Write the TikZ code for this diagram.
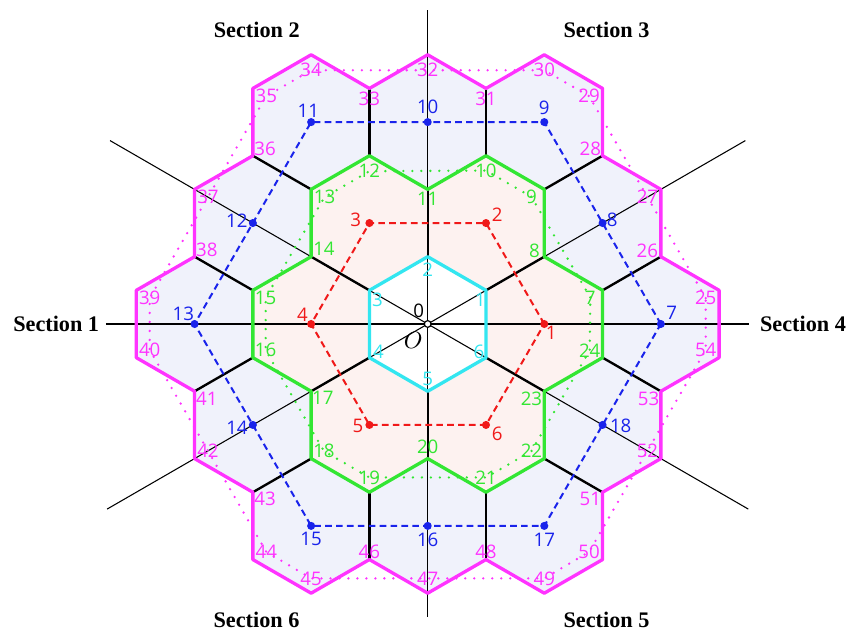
\documentclass[tikz,border=0pt]{standalone}
\usepackage{fontspec}
\setmainfont{Liberation Serif}
\newfontfamily\numfont{Open Sans}
\usetikzlibrary{calc}

\definecolor{hexmag}{RGB}{255,51,255}
\definecolor{hexgreen}{RGB}{51,230,51}
\definecolor{hexcyan}{RGB}{51,230,240}
\definecolor{ptblue}{RGB}{25,35,235}
\definecolor{ptred}{RGB}{240,25,25}
\definecolor{ringone}{RGB}{253,242,240}
\definecolor{ringtwo}{RGB}{240,242,251}

\begin{document}
\begin{tikzpicture}[font=\numfont\fontsize{7.9}{9}\selectfont,
  bound/.style={line width=1.4pt, line join=round},
  spoke/.style={line width=1pt},
  axis/.style={line width=0.45pt},
  link/.style={line width=0.85pt, dash pattern=on 2.8pt off 1.8pt},
  hull/.style={line width=1.1pt, line cap=round, dash pattern=on 0pt off 3.8pt},
  pt/.style={circle, fill, inner sep=0pt, minimum size=1.2mm},
  sect/.style={font=\rmfamily\bfseries\fontsize{9.4}{11}\selectfont}]
  \useasboundingbox (-6.355,-4.577) rectangle (6.230,4.814);

  %% vertices: cyan hexagon, green (ring 1) and magenta (ring 2) outlines
  \foreach \n in {1,...,6}
    \coordinate (c\n) at ({30+60*(\n-1)}:1);
  \foreach \n/\x/\y in {7/2.598/0.5, 8/1.732/1, 9/1.732/2, 10/0.866/2.5,
      11/0/2, 12/-0.866/2.5, 13/-1.732/2, 14/-1.732/1, 15/-2.598/0.5,
      16/-2.598/-0.5, 17/-1.732/-1, 18/-1.732/-2, 19/-0.866/-2.5, 20/0/-2,
      21/0.866/-2.5, 22/1.732/-2, 23/1.732/-1, 24/2.598/-0.5}
    \coordinate (g\n) at (\x,\y);
  \foreach \n/\x/\y in {25/4.33/0.5, 26/3.464/1, 27/3.464/2, 28/2.598/2.5,
      29/2.598/3.5, 30/1.732/4, 31/0.866/3.5, 32/0/4, 33/-0.866/3.5,
      34/-1.732/4, 35/-2.598/3.5, 36/-2.598/2.5, 37/-3.464/2, 38/-3.464/1,
      39/-4.33/0.5, 40/-4.33/-0.5, 41/-3.464/-1, 42/-3.464/-2, 43/-2.598/-2.5,
      44/-2.598/-3.5, 45/-1.732/-4, 46/-0.866/-3.5, 47/0/-4, 48/0.866/-3.5,
      49/1.732/-4, 50/2.598/-3.5, 51/2.598/-2.5, 52/3.464/-2, 53/3.464/-1,
      54/4.33/-0.5}
    \coordinate (m\n) at (\x,\y);

  %% ring fills
  \fill[ringtwo] (m25) \foreach \n in {26,...,54}{-- (m\n)} -- cycle;
  \fill[ringone] (g7) \foreach \n in {8,...,24}{-- (g\n)} -- cycle;
  \fill[white] (c1) \foreach \n in {2,...,6}{-- (c\n)} -- cycle;

  %% section lines
  \draw[axis] (-4.78,0) -- (4.78,0);
  \draw[axis] (0,-4.35) -- (0,4.67);
  \draw[axis] (150:5.45) -- (330:5.5);
  \draw[axis] (30:5.45) -- (210:5.5);

  %% inner hexagon edges
  \foreach \a/\b in {c1/g8, c2/g11, c3/g14, c4/g17, c5/g20, c6/g23,
      g7/m26, g9/m28, g10/m31, g12/m33, g13/m36, g15/m38,
      g16/m41, g18/m43, g19/m46, g21/m48, g22/m51, g24/m53}
    \draw[spoke] (\a) -- (\b);

  %% outlines
  \draw[bound, hexmag] (m25) \foreach \n in {26,...,54}{-- (m\n)} -- cycle;
  \draw[bound, hexgreen] (g7) \foreach \n in {8,...,24}{-- (g\n)} -- cycle;
  \draw[bound, hexcyan] (c1) \foreach \n in {2,...,6}{-- (c\n)} -- cycle;

  %% cell centres
  \foreach \n in {1,...,6}
    \node[pt, ptred] (r\n) at ({60*(\n-1)}:1.732) {};
  \foreach \n/\a/\r in {7/0/3.464, 8/30/3, 9/60/3.464, 10/90/3,
      11/120/3.464, 12/150/3, 13/180/3.464, 14/210/3, 15/240/3.464,
      16/270/3, 17/300/3.464, 18/330/3}
    \node[pt, ptblue] (b\n) at (\a:\r) {};
  \draw[link, ptred] (r1.center) \foreach \n in {2,...,6}{-- (r\n.center)} -- cycle;
  \draw[link, ptblue] (b7.center) \foreach \n in {8,...,18}{-- (b\n.center)} -- cycle;

  %% labels
  \foreach \n/\la/\ld in {1/-52/0.17, 2/38/0.21, 3/165/0.21, 4/132/0.19,
      5/185/0.17, 6/-38/0.21}
    \node[ptred] (lr\n) at ($(r\n)+(\la:\ld)$) {\n};
  \foreach \n/\la/\ld in {7/45/0.23, 8/18/0.15, 9/90/0.21, 10/90/0.22,
      11/104/0.17, 12/171/0.24, 13/137/0.23, 14/191/0.24, 15/270/0.2,
      16/270/0.2, 17/270/0.2, 18/-3/0.27}
    \node[ptblue] (lb\n) at ($(b\n)+(\la:\ld)$) {\n};
  \foreach \n/\la/\ld in {1/239/0.17, 2/270/0.2, 3/309/0.19, 4/34/0.16,
      5/90/0.18, 6/139/0.14}
    \node[hexcyan] (lc\n) at ($(c\n)+(\la:\ld)$) {\n};
  \foreach \n/\la/\ld in {7/210/0.21, 8/150/0.17, 9/210/0.22, 10/270/0.22,
      11/270/0.14, 12/270/0.23, 13/330/0.23, 14/30/0.22, 15/330/0.22,
      16/30/0.22, 17/330/0.2, 18/30/0.22, 19/90/0.22, 20/90/0.17,
      21/90/0.22, 22/150/0.22, 23/210/0.22, 24/150/0.22}
    \node[hexgreen] (lg\n) at ($(g\n)+(\la:\ld)$) {\n};
  \foreach \n/\la/\ld in {25/210/0.23, 26/155/0.22, 27/210/0.23, 28/150/0.21,
      29/210/0.23, 30/270/0.23, 31/270/0.15, 32/270/0.23, 33/270/0.15,
      34/270/0.23, 35/330/0.23, 36/30/0.21, 37/330/0.23, 38/30/0.21,
      39/330/0.23, 40/30/0.23, 41/330/0.21, 42/30/0.23, 43/330/0.21,
      44/30/0.23, 45/90/0.22, 46/90/0.12, 47/90/0.22, 48/90/0.12,
      49/90/0.22, 50/150/0.23, 51/210/0.21, 52/150/0.23, 53/210/0.21,
      54/150/0.23}
    \node[hexmag] (lm\n) at ($(m\n)+(\la:\ld)$) {\n};

  %% dotted hulls through the corner labels
  \draw[hull, hexgreen] (lg7.center) \foreach \n in {9,10,12,13,15,16,18,19,21,22,24}{-- (lg\n.center)} -- cycle;
  \draw[hull, hexmag] (lm25.center) \foreach \n in {29,30,34,35,39,40,44,45,49,50,54}{-- (lm\n.center)} -- cycle;

  %% origin
  \node[circle, draw, fill=white, inner sep=0pt, minimum size=1mm, line width=0.5pt] (O) at (0,0) {};
  \node (zero) at (124:0.24) {0};
  \node[font=\rmfamily\fontsize{10}{12}\selectfont] (Olab) at (228:0.32) {$O$};

  %% sections
  \node[sect] (s1) at (-5.52,0) {Section 1};
  \node[sect] (s2) at (-2.54,4.368) {Section 2};
  \node[sect] (s3) at (2.657,4.368) {Section 3};
  \node[sect] (s4) at (5.576,0) {Section 4};
  \node[sect] (s5) at (2.657,-4.398) {Section 5};
  \node[sect] (s6) at (-2.544,-4.398) {Section 6};
\end{tikzpicture}
\end{document}
